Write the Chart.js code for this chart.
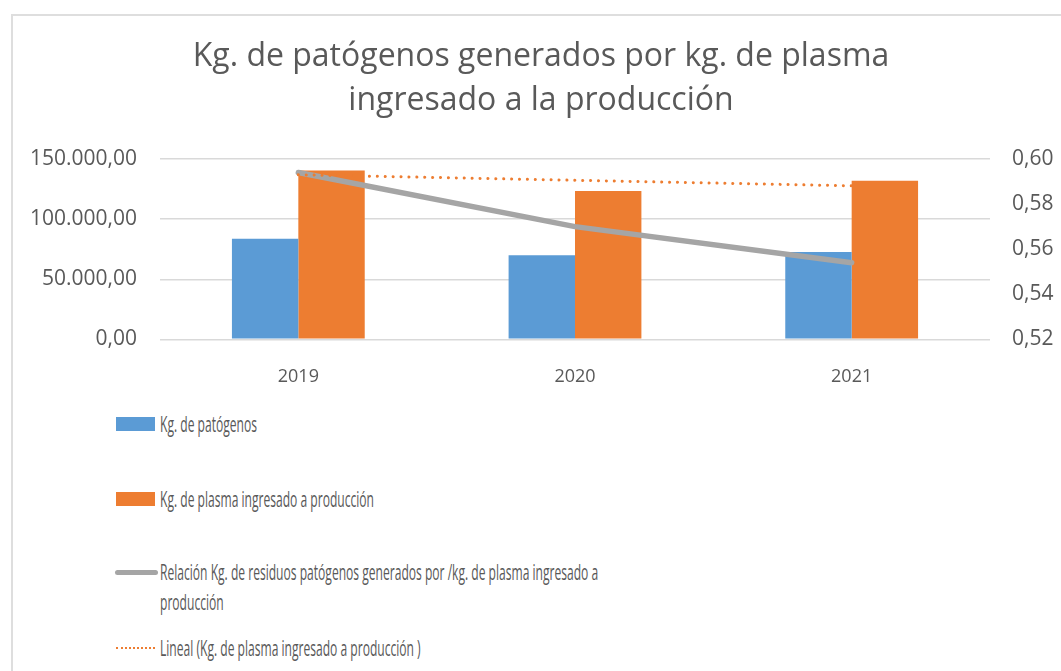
<!DOCTYPE html>
<html>
<head>
<meta charset="utf-8">
<script src="https://cdn.jsdelivr.net/npm/chart.js@4.4.0/dist/chart.umd.min.js"></script>
<style>
    html, body { margin: 0; padding: 0; background: #fff; }
    body { width: 1061px; height: 671px; overflow: hidden; position: relative; font-family: "Open Sans", sans-serif; }
    .frame { position: absolute; left: 11px; top: 14px; width: 1200px; height: 800px; border: 2px solid #dedede; box-sizing: border-box; }
    #combo_chart { position: absolute; left: 0; top: 0; }
    .leg-row { position: absolute; left: 0; width: 1061px; height: 30px; }
    .leg-sym { position: absolute; }
    .leg-txt { position: absolute; left: 160px; top: 0; width: 850px; font-size: 21px; line-height: 30px; color: #595959;
               transform: scaleX(0.575); transform-origin: 0 0; white-space: normal; }
</style>
</head>
<body>
<div class="frame"></div>
<canvas id="combo_chart" width="1061" height="400"></canvas>
<div id="legend"></div>
<script>
var years = ["2019", "2020", "2021"];
var patogenos = [83600, 70000, 72700];
var plasma = [140500, 123300, 131900];
var relacion = [0.594, 0.570, 0.554];
var tendencia = [136900, 132300, 127700];
var leftTicks = [0, 50000, 100000, 150000];
var rightTicks = [0.52, 0.54, 0.56, 0.58, 0.60];

var titleLines = ["Kg. de patógenos generados por kg. de plasma", "ingresado a la producción"];
var labels = [
    "Kg. de patógenos",
    "Kg. de plasma ingresado a producción",
    "Relación Kg. de residuos patógenos generados por /kg. de plasma ingresado a producción",
    "Lineal (Kg. de plasma ingresado a producción )"
];

var textColor = '#595959';

function fmtMiles(v) {
    var parts = Number(v).toFixed(2).split('.');
    parts[0] = parts[0].replace(/\B(?=(\d{3})+(?!\d))/g, '.');
    return parts.join(',');
}

var chart = new Chart(document.getElementById("combo_chart").getContext("2d"), {
    type: 'bar',
    data: {
        labels: years,
        datasets: [{
            label: labels[0],
            data: patogenos,
            backgroundColor: '#5B9BD5',
            yAxisID: 'y',
            order: 3,
            categoryPercentage: 0.48,
            barPercentage: 1
        }, {
            label: labels[1],
            data: plasma,
            backgroundColor: '#ED7D31',
            yAxisID: 'y',
            order: 3,
            categoryPercentage: 0.48,
            barPercentage: 1
        }, {
            type: 'line',
            label: labels[2],
            data: relacion,
            borderColor: '#A5A5A5',
            borderWidth: 5.5,
            borderCapStyle: 'round',
            pointRadius: 0,
            tension: 0,
            yAxisID: 'y2',
            order: 2
        }, {
            type: 'line',
            label: labels[3],
            data: tendencia,
            borderColor: '#ED7D31',
            borderWidth: 3,
            borderDash: [0.1, 7.8],
            borderCapStyle: 'round',
            pointRadius: 0,
            tension: 0,
            yAxisID: 'y',
            order: 1
        }]
    },
    options: {
        responsive: false,
        animation: false,
        layout: { padding: { left: 21, right: 0, top: 0, bottom: 0 } },
        plugins: {
            legend: { display: false },
            tooltip: { enabled: false },
            title: {
                display: true,
                text: titleLines,
                color: textColor,
                font: { family: 'Open Sans', size: 32, weight: 'normal', lineHeight: 1.375 },
                padding: { top: 35, bottom: 36 }
            }
        },
        scales: {
            x: {
                grid: { display: false },
                border: { display: false },
                ticks: { color: textColor, padding: 19, font: { family: 'Open Sans', size: 18 } },
                afterFit: function (scale) { scale.height = 60.7; }
            },
            y: {
                position: 'left',
                min: leftTicks[0],
                max: leftTicks[leftTicks.length - 1],
                afterBuildTicks: function (scale) { scale.ticks = leftTicks.map(function (v) { return { value: v }; }); },
                grid: { color: '#d9d9d9', lineWidth: 1.4, drawTicks: false },
                border: { display: false },
                ticks: { color: textColor, padding: 23, font: { family: 'Open Sans', size: 21 }, callback: fmtMiles },
                afterFit: function (scale) { scale.width = 139; }
            },
            y2: {
                position: 'right',
                min: rightTicks[0],
                max: rightTicks[rightTicks.length - 1],
                afterBuildTicks: function (scale) { scale.ticks = rightTicks.map(function (v) { return { value: v }; }); },
                grid: { display: false, drawTicks: false },
                border: { display: false },
                ticks: {
                    color: textColor, padding: 22, font: { family: 'Open Sans', size: 21 },
                    callback: function (v) { return Number(v).toFixed(2).replace('.', ','); }
                },
                afterFit: function (scale) { scale.width = 71; }
            }
        }
    }
});

// leyenda aparte, en columna como en el original
var legendRowsY = [424, 499, 572, 648];
var legendEl = document.getElementById('legend');
chart.data.datasets.forEach(function (ds, i) {
    var row = document.createElement('div');
    row.className = 'leg-row';
    row.style.top = (legendRowsY[i] - 15) + 'px';

    var sym = document.createElement('div');
    sym.className = 'leg-sym';
    if (ds.type === 'line' && ds.borderDash) {
        sym.style.cssText = 'left:116px;top:14px;width:39px;height:0;border-top:2.5px dotted ' + ds.borderColor + ';';
    } else if (ds.type === 'line') {
        sym.style.cssText = 'left:115px;top:12.5px;width:43px;height:5px;border-radius:3px;background:' + ds.borderColor + ';';
    } else {
        sym.style.cssText = 'left:116px;top:8px;width:39px;height:14px;background:' + ds.backgroundColor + ';';
    }
    row.appendChild(sym);

    var txt = document.createElement('div');
    txt.className = 'leg-txt';
    txt.textContent = ds.label;
    row.appendChild(txt);

    legendEl.appendChild(row);
});
</script>
</body>
</html>
